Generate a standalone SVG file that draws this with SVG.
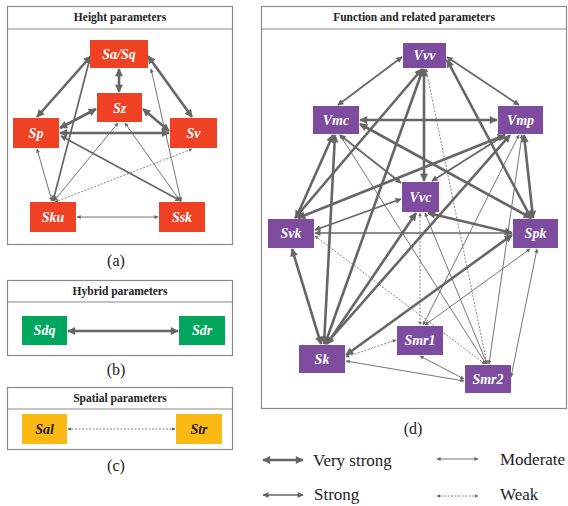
<svg xmlns="http://www.w3.org/2000/svg" width="568" height="506" viewBox="0 0 568 506" font-family="'Liberation Serif', 'Times New Roman', Times, 'DejaVu Serif', serif">
<style>
text{font-family:'Liberation Serif','Times New Roman',Times,'DejaVu Serif',serif}
.panel{fill:#fff;stroke:#8a8a8a;stroke-width:1.2}
.sep{stroke:#8a8a8a;stroke-width:1.2}
.title{font-weight:bold;font-size:11.5px;fill:#222;text-anchor:middle}
.lab{font-size:16px;fill:#222;text-anchor:middle}
.leg{font-size:17px;fill:#222}
.nt{font-weight:bold;font-style:italic;font-size:14px;fill:#fff;text-anchor:middle}
.ntd{font-weight:bold;font-style:italic;font-size:14px;fill:#222;text-anchor:middle}
.red{fill:#EF4123}
.grn{fill:#00A65B}
.org{fill:#FDB913}
.pur{fill:#7D4C9F}
.vs{stroke:#666;stroke-width:2.6;fill:none;marker-start:url(#mvs);marker-end:url(#mvs)}
.st{stroke:#666;stroke-width:1.7;fill:none;marker-start:url(#mst);marker-end:url(#mst)}
.mo{stroke:#666;stroke-width:0.9;fill:none;marker-start:url(#mmo);marker-end:url(#mmo)}
.wk{stroke:#666;stroke-width:0.8;stroke-dasharray:2 1.5;fill:none;marker-start:url(#mwk);marker-end:url(#mwk)}
</style>
<defs>
<marker id="mvs" viewBox="0 0 10 10" refX="9" refY="5" markerUnits="userSpaceOnUse" markerWidth="10" markerHeight="8" orient="auto-start-reverse"><path d="M0,0 L10,5 L0,10 z" fill="#666"/></marker>
<marker id="mst" viewBox="0 0 10 10" refX="9" refY="5" markerUnits="userSpaceOnUse" markerWidth="8" markerHeight="6" orient="auto-start-reverse"><path d="M0,0 L10,5 L0,10 z" fill="#666"/></marker>
<marker id="mmo" viewBox="0 0 10 10" refX="9" refY="5" markerUnits="userSpaceOnUse" markerWidth="6" markerHeight="4" orient="auto-start-reverse"><path d="M0,0 L10,5 L0,10 z" fill="#666"/></marker>
<marker id="mwk" viewBox="0 0 10 10" refX="9" refY="5" markerUnits="userSpaceOnUse" markerWidth="5" markerHeight="3.5" orient="auto-start-reverse"><path d="M0,0 L10,5 L0,10 z" fill="#666"/></marker>
</defs>
<rect width="568" height="506" fill="#fff"/>

<g id="panel-a">
<rect class="panel" x="7.5" y="6.5" width="225" height="238"/>
<line class="sep" x1="7.5" y1="29" x2="232.5" y2="29"/>
<text class="title" x="120" y="21">Height parameters</text>
<text class="lab" x="116" y="266">(a)</text>
</g>
<g id="panel-b">
<rect class="panel" x="7.5" y="280.5" width="225" height="75"/>
<line class="sep" x1="7.5" y1="302" x2="232.5" y2="302"/>
<text class="title" x="120" y="295">Hybrid parameters</text>
<text class="lab" x="116" y="375">(b)</text>
</g>
<g id="panel-c">
<rect class="panel" x="7.5" y="387.5" width="225" height="62"/>
<line class="sep" x1="7.5" y1="409" x2="232.5" y2="409"/>
<text class="title" x="120" y="402">Spatial parameters</text>
<text class="lab" x="116" y="471">(c)</text>
</g>
<g id="panel-d">
<rect class="panel" x="261.5" y="6.5" width="305" height="402"/>
<line class="sep" x1="261.5" y1="29" x2="566.5" y2="29"/>
<text class="title" x="414" y="21">Function and related parameters</text>
<text class="lab" x="413" y="434">(d)</text>
</g>

<g id="connectors">
<line class="vs" x1="91" y1="56" x2="37" y2="117"/>
<line class="vs" x1="119" y1="69" x2="119" y2="92"/>
<line class="vs" x1="148" y1="56" x2="192" y2="117"/>
<line class="vs" x1="96" y1="109" x2="60" y2="128"/>
<line class="vs" x1="143" y1="109" x2="169" y2="131"/>
<line class="vs" x1="60" y1="133" x2="169" y2="133"/>
<line class="st" x1="61" y1="136" x2="181" y2="201"/>
<line class="mo" x1="37" y1="149" x2="52" y2="201"/>
<line class="st" x1="53" y1="201" x2="90" y2="58"/>
<line class="mo" x1="54" y1="201" x2="118" y2="123"/>
<line class="wk" x1="55" y1="202" x2="192" y2="149"/>
<line class="mo" x1="77" y1="217" x2="158" y2="217"/>
<line class="mo" x1="181" y1="201" x2="151" y2="69"/>
<line class="mo" x1="180" y1="201" x2="125" y2="123" stroke-width="0.7"/>
<line class="vs" x1="68" y1="331" x2="178" y2="331"/>
<line class="wk" x1="68" y1="429" x2="175" y2="429"/>
<line class="vs" x1="360" y1="120" x2="497" y2="120"/>
<line class="vs" x1="424" y1="69" x2="424" y2="181"/>
<line class="vs" x1="422" y1="69" x2="295" y2="218"/>
<line class="vs" x1="423" y1="69" x2="325" y2="344"/>
<line class="vs" x1="333" y1="135" x2="296" y2="218"/>
<line class="vs" x1="335" y1="135" x2="324" y2="344"/>
<line class="vs" x1="360" y1="124" x2="531" y2="218"/>
<line class="vs" x1="505" y1="135" x2="298" y2="218"/>
<line class="vs" x1="510" y1="135" x2="326" y2="344"/>
<line class="vs" x1="524" y1="135" x2="533" y2="218"/>
<line class="vs" x1="447" y1="60" x2="531" y2="218"/>
<line class="vs" x1="292" y1="249" x2="321" y2="344"/>
<line class="vs" x1="416" y1="213" x2="327" y2="344"/>
<line class="vs" x1="346" y1="355" x2="512" y2="235"/>
<line class="vs" x1="428" y1="213" x2="512" y2="233"/>
<line class="st" x1="402" y1="57" x2="338" y2="105"/>
<line class="st" x1="447" y1="57" x2="519" y2="105"/>
<line class="st" x1="340" y1="135" x2="401" y2="183"/>
<line class="st" x1="505" y1="135" x2="432" y2="181"/>
<line class="st" x1="315" y1="230" x2="401" y2="199"/>
<line class="st" x1="315" y1="233" x2="512" y2="233"/>
<line class="mo" x1="340" y1="135" x2="486" y2="364"/>
<line class="mo" x1="425" y1="213" x2="487" y2="364"/>
<line class="mo" x1="519" y1="135" x2="423" y2="325"/>
<line class="mo" x1="522" y1="135" x2="489" y2="364"/>
<line class="mo" x1="530" y1="249" x2="425" y2="325"/>
<line class="mo" x1="537" y1="249" x2="511" y2="377"/>
<line class="mo" x1="420" y1="356" x2="464" y2="379"/>
<line class="mo" x1="346" y1="361" x2="464" y2="381"/>
<line class="wk" x1="426" y1="69" x2="487" y2="364"/>
<line class="wk" x1="420" y1="213" x2="420" y2="325"/>
<line class="wk" x1="315" y1="236" x2="485" y2="364"/>
<line class="wk" x1="396" y1="340" x2="346" y2="357"/>
</g>

<g id="SaSq"><rect class="red" x="90" y="40" width="58" height="28"/><text class="nt" x="119" y="59">Sa/Sq</text></g>
<g id="Sz"><rect class="red" x="97" y="93" width="45" height="29"/><text class="nt" x="119.5" y="112.5">Sz</text></g>
<g id="Sp"><rect class="red" x="13" y="118" width="46" height="30"/><text class="nt" x="36" y="138">Sp</text></g>
<g id="Sv"><rect class="red" x="170" y="118" width="47" height="30"/><text class="nt" x="193.5" y="138">Sv</text></g>
<g id="Sku"><rect class="red" x="30" y="202" width="46" height="30"/><text class="nt" x="53" y="222">Sku</text></g>
<g id="Ssk"><rect class="red" x="159" y="202" width="46" height="30"/><text class="nt" x="182" y="222">Ssk</text></g>
<g id="Sdq"><rect class="grn" x="22" y="316" width="45" height="29"/><text class="nt" x="44.5" y="335">Sdq</text></g>
<g id="Sdr"><rect class="grn" x="179" y="316" width="46" height="29"/><text class="nt" x="202" y="335">Sdr</text></g>
<g id="Sal"><rect class="org" x="22" y="414" width="45" height="30"/><text class="ntd" x="44.5" y="434">Sal</text></g>
<g id="Str"><rect class="org" x="176" y="414" width="46" height="30"/><text class="ntd" x="199" y="434">Str</text></g>
<g id="Vvv"><rect class="pur" x="403" y="43" width="43" height="25"/><text class="nt" x="424.5" y="60">Vvv</text></g>
<g id="Vmc"><rect class="pur" x="313" y="106" width="46" height="28"/><text class="nt" x="336" y="125">Vmc</text></g>
<g id="Vmp"><rect class="pur" x="498" y="106" width="45" height="28"/><text class="nt" x="520.5" y="125">Vmp</text></g>
<g id="Vvc"><rect class="pur" x="402" y="182" width="37" height="30"/><text class="nt" x="420.5" y="201.5">Vvc</text></g>
<g id="Svk"><rect class="pur" x="268" y="219" width="46" height="29"/><text class="nt" x="291" y="238">Svk</text></g>
<g id="Spk"><rect class="pur" x="513" y="219" width="45" height="29"/><text class="nt" x="535.5" y="238">Spk</text></g>
<g id="Smr1"><rect class="pur" x="397" y="326" width="46" height="29"/><text class="nt" x="420" y="345">Smr1</text></g>
<g id="Sk"><rect class="pur" x="299" y="345" width="46" height="28"/><text class="nt" x="322" y="364">Sk</text></g>
<g id="Smr2"><rect class="pur" x="465" y="365" width="46" height="28"/><text class="nt" x="488" y="384">Smr2</text></g>

<g id="legend">
<line class="vs" x1="263" y1="460" x2="303" y2="460"/>
<text class="leg" x="313" y="466">Very strong</text>
<line class="mo" x1="437" y1="459" x2="478" y2="459"/>
<text class="leg" x="500" y="465">Moderate</text>
<line class="st" x1="263" y1="495" x2="303" y2="495"/>
<text class="leg" x="314" y="500">Strong</text>
<line class="wk" x1="437" y1="496" x2="478" y2="496"/>
<text class="leg" x="500" y="500">Weak</text>
</g>
</svg>
